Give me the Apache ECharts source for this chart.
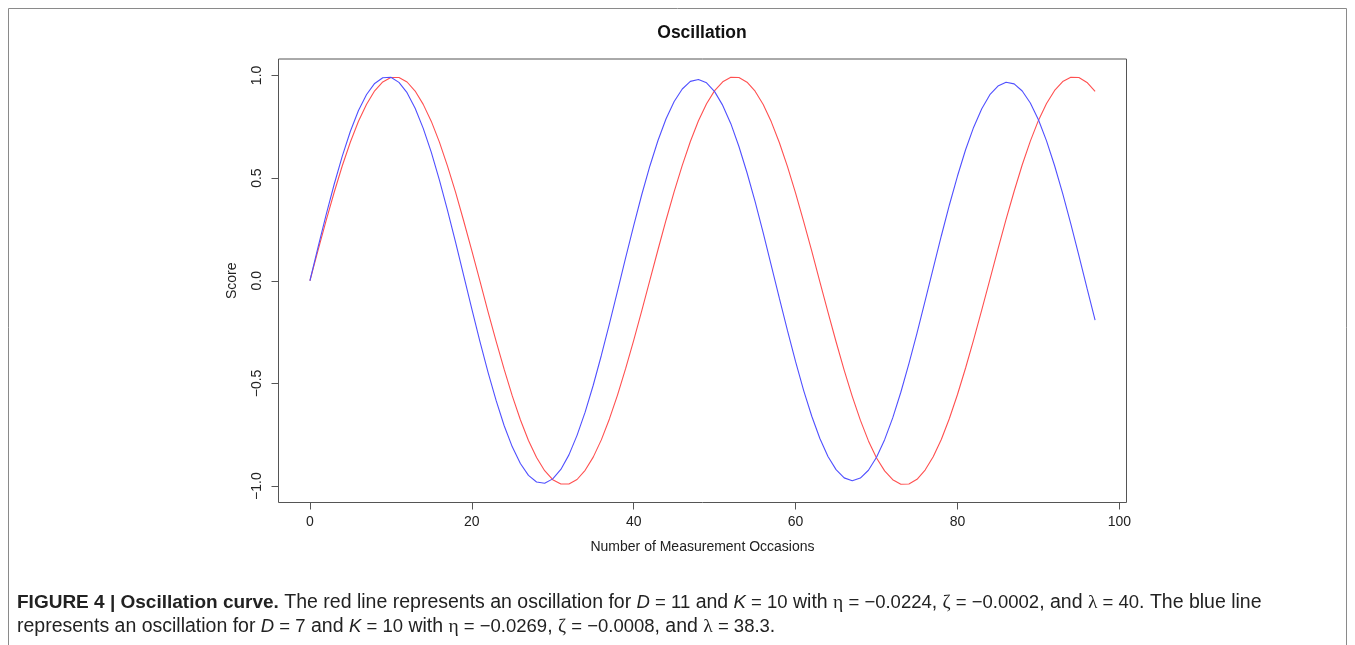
<!DOCTYPE html>
<html>
<head>
<meta charset="utf-8">
<style>
  html, body { margin: 0; padding: 0; background: #ffffff; }
  #chart { width: 1355px; height: 645px; }
</style>
<script src="https://cdn.jsdelivr.net/npm/echarts@6/dist/echarts.min.js"></script>
</head>
<body>
<div id="chart"></div>
<script>
// Measurement occasions (x)
const occasions = [0,1,2,3,4,5,6,7,8,9,10,11,12,13,14,15,16,17,18,19,20,21,22,23,24,25,26,27,28,29,30,31,32,33,34,35,36,37,38,39,40,41,42,43,44,45,46,47,48,49,50,51,52,53,54,55,56,57,58,59,60,61,62,63,64,65,66,67,68,69,70,71,72,73,74,75,76,77,78,79,80,81,82,83,84,85,86,87,88,89,90,91,92,93,94,95,96,97];

// Red line: D = 11, K = 10
const redScores = [0,0.148,0.293,0.431,0.560,0.676,0.777,0.860,0.925,0.968,0.990,0.990,0.968,0.924,0.859,0.776,0.675,0.558,0.430,0.291,0.147,-0.001,-0.150,-0.294,-0.432,-0.561,-0.677,-0.778,-0.861,-0.925,-0.969,-0.990,-0.990,-0.968,-0.923,-0.859,-0.775,-0.673,-0.557,-0.428,-0.290,-0.145,0.003,0.151,0.296,0.434,0.562,0.678,0.779,0.862,0.926,0.969,0.991,0.990,0.967,0.923,0.858,0.774,0.672,0.556,0.427,0.288,0.144,-0.005,-0.153,-0.297,-0.435,-0.563,-0.679,-0.780,-0.863,-0.926,-0.969,-0.991,-0.990,-0.967,-0.922,-0.857,-0.773,-0.671,-0.554,-0.425,-0.287,-0.142,0.006,0.154,0.299,0.436,0.565,0.680,0.781,0.863,0.927,0.970,0.991,0.990,0.966,0.922];

// Blue line: D = 7, K = 10
const blueScores = [0,0.163,0.321,0.470,0.607,0.728,0.829,0.907,0.961,0.989,0.991,0.966,0.916,0.840,0.742,0.625,0.490,0.343,0.187,0.025,-0.137,-0.295,-0.445,-0.583,-0.706,-0.809,-0.890,-0.948,-0.980,-0.986,-0.965,-0.919,-0.848,-0.753,-0.640,-0.509,-0.364,-0.210,-0.050,0.111,0.269,0.420,0.559,0.683,0.789,0.873,0.934,0.971,0.980,0.964,0.921,0.854,0.765,0.654,0.526,0.385,0.233,0.074,-0.086,-0.243,-0.394,-0.535,-0.660,-0.768,-0.856,-0.920,-0.960,-0.974,-0.961,-0.923,-0.860,-0.774,-0.668,-0.543,-0.404,-0.255,-0.098,0.060,0.218,0.369,0.510,0.638,0.748,0.838,0.906,0.948,0.967,0.959,0.924,0.866,0.784,0.681,0.560,0.424,0.277,0.122,-0.036,-0.192];

const xTicks = [0, 20, 40, 60, 80, 100];
const yTicks = [-1, -0.5, 0, 0.5, 1];

const chartTitle = 'Oscillation';
const xTitle = 'Number of Measurement Occasions';
const yTitle = 'Score';

const toPairs = (xs, ys) => xs.map((x, i) => [x, ys[i]]);

const chart = echarts.init(document.getElementById('chart'), null, { renderer: 'canvas' });

const axisFont = 'Liberation Sans, Arial, sans-serif';
const capFont = 'Liberation Sans, Arial, sans-serif';
const mathFont = 'Liberation Sans, Arial, sans-serif';
const greekFont = 'Liberation Serif, Times New Roman, serif';
const capSize = 19.5;
const capColor = '#222222';

const capRich = {
  b: { fontFamily: capFont, fontSize: 19, fontWeight: 'bold', fill: capColor },
  i: { fontFamily: mathFont, fontSize: capSize - 1, fontStyle: 'italic', fill: capColor },
  m: { fontFamily: mathFont, fontSize: capSize - 1, fill: capColor },
  g: { fontFamily: greekFont, fontSize: capSize, fill: capColor }
};

chart.setOption({
  animation: false,
  backgroundColor: '#ffffff',
  grid: {
    left: 278.5, right: 1355 - 1126.5, top: 59, bottom: 645 - 502.5,
    show: true, borderColor: '#555555', borderWidth: 1, backgroundColor: 'transparent'
  },
  xAxis: {
    type: 'value', min: -3.88, max: 100.88,
    axisLine: { show: false, onZero: false },
    splitLine: { show: false },
    axisTick: { show: true, inside: false, length: 7, customValues: xTicks, lineStyle: { color: '#555555', width: 1 } },
    axisLabel: { show: true, customValues: xTicks, margin: 13, color: '#222222', fontFamily: axisFont, fontSize: 14,
                 formatter: v => String(v) },
    name: xTitle, nameLocation: 'middle', nameGap: 38,
    nameTextStyle: { color: '#222222', fontFamily: axisFont, fontSize: 14 }
  },
  yAxis: {
    type: 'value', min: -1.08, max: 1.08,
    axisLine: { show: false, onZero: false },
    splitLine: { show: false },
    axisTick: { show: true, inside: false, length: 7, customValues: yTicks, lineStyle: { color: '#555555', width: 1 } },
    axisLabel: { show: true, customValues: yTicks, margin: 14, rotate: 90, color: '#222222', fontFamily: axisFont, fontSize: 14,
                 formatter: v => v.toFixed(1).replace('-', '\u2212') },
    name: yTitle, nameLocation: 'middle', nameGap: 39,
    nameTextStyle: { color: '#222222', fontFamily: axisFont, fontSize: 14 }
  },
  series: [
    {
      name: 'red', type: 'line', data: toPairs(occasions, redScores),
      showSymbol: false, smooth: false,
      lineStyle: { color: '#ff5050', width: 1.1 }, z: 3
    },
    {
      name: 'blue', type: 'line', data: toPairs(occasions, blueScores),
      showSymbol: false, smooth: false,
      lineStyle: { color: '#5050ff', width: 1.1 }, z: 4
    }
  ],
  graphic: [
    {
      type: 'rect', silent: true,
      shape: { x: 8.5, y: 8.5, width: 1338, height: 700 },
      style: { fill: 'none', stroke: '#8a8a8a', lineWidth: 1 }
    },
    {
      type: 'text', x: 702, y: 33, silent: true,
      style: { text: chartTitle, fontFamily: axisFont, fontWeight: 'bold', fontSize: 17.5,
               fill: '#111111', align: 'center', verticalAlign: 'middle' }
    },
    {
      type: 'text', x: 17, y: 603, silent: true,
      style: {
        text: '{b|FIGURE 4 | Oscillation curve.} The red line represents an oscillation for {i|D}{m| = 11} and {i|K}{m| = 10} with {g|\u03b7}{m| = \u22120.0224}, {g|\u03b6}{m| = \u22120.0002}, and {g|\u03bb}{m| = 40}. The blue line',
        fontFamily: capFont, fontSize: capSize, fill: capColor, verticalAlign: 'middle', align: 'left',
        rich: capRich
      }
    },
    {
      type: 'text', x: 17, y: 627, silent: true,
      style: {
        text: 'represents an oscillation for {i|D}{m| = 7} and {i|K}{m| = 10} with {g|\u03b7}{m| = \u22120.0269}, {g|\u03b6}{m| = \u22120.0008}, and {g|\u03bb}{m| = 38.3}.',
        fontFamily: capFont, fontSize: capSize, fill: capColor, verticalAlign: 'middle', align: 'left',
        rich: capRich
      }
    }
  ]
});
</script>
</body>
</html>
